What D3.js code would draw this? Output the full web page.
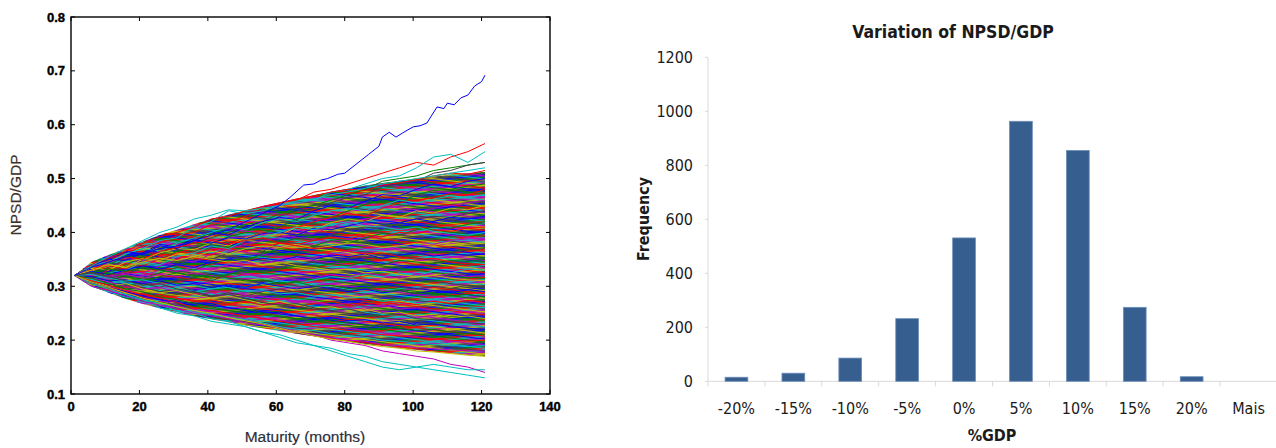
<!DOCTYPE html>
<html><head><meta charset="utf-8">
<script src="https://cdn.jsdelivr.net/npm/d3@7/dist/d3.min.js"></script>
<style>
html,body{margin:0;padding:0;background:#fff;}
svg{display:block;}
</style></head>
<body>
<svg id="c" width="1276" height="448"></svg>
<script>
// ---------- LEFT CHART DATA (NPSD/GDP simulated paths, read approximately) ----------
const months = [1,6,11,16,21,26,31,36,41,46,51,56,61,66,71,76,81,86,91,96,101,106,111,116,121];
const fanUpper = [0.32,0.345,0.358,0.37,0.383,0.395,0.405,0.415,0.425,0.433,0.441,0.449,0.456,0.463,0.469,0.475,0.481,0.487,0.492,0.496,0.5,0.504,0.508,0.51,0.512];
const fanLower = [0.32,0.3,0.288,0.277,0.267,0.259,0.252,0.245,0.239,0.233,0.227,0.222,0.217,0.212,0.207,0.202,0.197,0.193,0.189,0.185,0.182,0.179,0.176,0.173,0.17];
const paths = [
 [0.32,0.335,0.35,0.36,0.375,0.38,0.395,0.40,0.415,0.42,0.43,0.445,0.455,0.46,0.475,0.48,0.49,0.5,0.51,0.52,0.53,0.525,0.54,0.55,0.565],
 [0.32,0.34,0.345,0.36,0.37,0.385,0.39,0.41,0.42,0.44,0.435,0.44,0.45,0.455,0.46,0.475,0.48,0.49,0.5,0.505,0.52,0.54,0.545,0.53,0.55],
 [0.32,0.33,0.34,0.355,0.36,0.37,0.38,0.385,0.40,0.405,0.415,0.42,0.435,0.445,0.45,0.46,0.47,0.48,0.495,0.50,0.505,0.515,0.52,0.525,0.53],
 [0.32,0.325,0.335,0.35,0.345,0.36,0.375,0.38,0.39,0.4,0.41,0.415,0.43,0.44,0.445,0.455,0.465,0.47,0.485,0.49,0.495,0.51,0.515,0.525,0.53],
 [0.32,0.305,0.295,0.285,0.27,0.265,0.255,0.25,0.24,0.235,0.225,0.215,0.21,0.2,0.19,0.185,0.175,0.17,0.16,0.155,0.15,0.145,0.14,0.135,0.13],
 [0.32,0.31,0.3,0.29,0.28,0.275,0.265,0.255,0.25,0.245,0.24,0.23,0.225,0.215,0.21,0.2,0.195,0.19,0.18,0.175,0.17,0.165,0.155,0.15,0.14],
 [0.32,0.3,0.29,0.28,0.275,0.26,0.25,0.245,0.235,0.23,0.225,0.215,0.205,0.195,0.19,0.18,0.17,0.16,0.15,0.145,0.15,0.155,0.15,0.145,0.145],
 [0.32,0.338,0.35,0.348,0.362,0.378,0.372,0.39,0.40,0.395,0.41,0.42,0.428,0.424,0.44,0.45,0.445,0.458,0.47,0.468,0.48,0.49,0.485,0.495,0.50],
 [0.32,0.33,0.325,0.34,0.355,0.35,0.365,0.372,0.38,0.392,0.4,0.398,0.41,0.425,0.432,0.428,0.44,0.452,0.46,0.455,0.47,0.478,0.48,0.486,0.49],
 [0.32,0.315,0.33,0.342,0.338,0.35,0.362,0.37,0.365,0.378,0.39,0.4,0.395,0.41,0.42,0.428,0.435,0.43,0.445,0.455,0.46,0.465,0.472,0.47,0.48],
 [0.32,0.335,0.345,0.36,0.37,0.365,0.38,0.39,0.4,0.41,0.405,0.418,0.425,0.42,0.432,0.44,0.445,0.44,0.45,0.46,0.455,0.462,0.468,0.465,0.47],
 [0.32,0.31,0.318,0.33,0.325,0.338,0.35,0.345,0.36,0.37,0.378,0.385,0.39,0.4,0.398,0.41,0.42,0.425,0.43,0.44,0.438,0.445,0.45,0.455,0.46],
 [0.32,0.328,0.34,0.335,0.35,0.362,0.37,0.368,0.38,0.375,0.39,0.398,0.395,0.41,0.405,0.418,0.425,0.42,0.432,0.428,0.44,0.436,0.445,0.442,0.45],
 [0.32,0.325,0.315,0.322,0.335,0.33,0.342,0.355,0.35,0.362,0.37,0.365,0.38,0.39,0.385,0.395,0.405,0.41,0.405,0.418,0.425,0.43,0.428,0.435,0.44],
 [0.32,0.34,0.35,0.365,0.36,0.375,0.37,0.385,0.38,0.39,0.388,0.398,0.4,0.395,0.408,0.405,0.412,0.42,0.415,0.418,0.425,0.42,0.428,0.425,0.43],
 [0.32,0.318,0.31,0.32,0.315,0.325,0.335,0.33,0.342,0.35,0.348,0.36,0.37,0.365,0.375,0.385,0.38,0.39,0.398,0.395,0.405,0.41,0.408,0.415,0.42],
 [0.32,0.33,0.338,0.332,0.345,0.355,0.35,0.362,0.358,0.37,0.365,0.372,0.38,0.378,0.385,0.39,0.388,0.395,0.392,0.4,0.398,0.405,0.402,0.408,0.41],
 [0.32,0.312,0.325,0.33,0.345,0.34,0.355,0.362,0.375,0.37,0.385,0.392,0.4,0.41,0.405,0.415,0.42,0.412,0.41,0.405,0.41,0.402,0.398,0.395,0.40],
 [0.32,0.322,0.318,0.325,0.32,0.33,0.328,0.335,0.33,0.34,0.345,0.342,0.35,0.355,0.352,0.36,0.365,0.37,0.368,0.375,0.38,0.378,0.385,0.388,0.39],
 [0.32,0.335,0.33,0.345,0.352,0.348,0.36,0.355,0.365,0.36,0.37,0.375,0.372,0.378,0.37,0.375,0.38,0.378,0.372,0.375,0.38,0.376,0.382,0.378,0.38],
 [0.32,0.305,0.31,0.3,0.305,0.298,0.31,0.315,0.31,0.322,0.33,0.328,0.335,0.34,0.345,0.342,0.35,0.355,0.352,0.36,0.358,0.365,0.362,0.368,0.37],
 [0.32,0.328,0.322,0.33,0.338,0.332,0.34,0.335,0.345,0.35,0.345,0.352,0.348,0.355,0.35,0.358,0.355,0.36,0.352,0.358,0.362,0.356,0.36,0.358,0.36],
 [0.32,0.315,0.325,0.318,0.31,0.318,0.325,0.32,0.315,0.322,0.33,0.325,0.332,0.338,0.335,0.342,0.338,0.345,0.34,0.348,0.345,0.342,0.348,0.346,0.35],
 [0.32,0.33,0.345,0.355,0.35,0.365,0.372,0.38,0.385,0.378,0.385,0.39,0.38,0.375,0.37,0.372,0.365,0.36,0.362,0.355,0.35,0.352,0.345,0.342,0.34],
 [0.32,0.312,0.305,0.31,0.3,0.292,0.298,0.29,0.295,0.302,0.298,0.305,0.31,0.305,0.312,0.318,0.315,0.322,0.318,0.325,0.32,0.328,0.325,0.332,0.33],
 [0.32,0.325,0.318,0.322,0.315,0.322,0.318,0.325,0.32,0.316,0.322,0.318,0.312,0.318,0.315,0.322,0.318,0.325,0.32,0.315,0.322,0.318,0.324,0.318,0.32],
 [0.32,0.33,0.34,0.335,0.345,0.352,0.348,0.355,0.35,0.345,0.348,0.34,0.345,0.338,0.335,0.33,0.332,0.325,0.328,0.322,0.318,0.32,0.315,0.312,0.31],
 [0.32,0.31,0.302,0.295,0.298,0.29,0.285,0.29,0.282,0.288,0.282,0.29,0.295,0.288,0.292,0.298,0.292,0.295,0.302,0.298,0.295,0.3,0.296,0.302,0.30],
 [0.32,0.318,0.31,0.312,0.305,0.31,0.302,0.305,0.298,0.302,0.298,0.305,0.3,0.295,0.3,0.296,0.29,0.295,0.288,0.292,0.286,0.292,0.288,0.294,0.29],
 [0.32,0.325,0.332,0.328,0.335,0.33,0.325,0.318,0.322,0.315,0.31,0.312,0.305,0.308,0.3,0.302,0.296,0.298,0.29,0.292,0.286,0.288,0.282,0.285,0.28],
 [0.32,0.305,0.295,0.288,0.28,0.285,0.278,0.272,0.275,0.268,0.272,0.265,0.27,0.262,0.268,0.272,0.266,0.27,0.265,0.27,0.266,0.272,0.268,0.274,0.27],
 [0.32,0.322,0.315,0.31,0.312,0.305,0.3,0.302,0.295,0.298,0.29,0.292,0.286,0.288,0.282,0.285,0.278,0.28,0.272,0.275,0.268,0.27,0.265,0.262,0.26],
 [0.32,0.315,0.308,0.3,0.295,0.298,0.29,0.285,0.288,0.28,0.282,0.275,0.278,0.27,0.272,0.265,0.268,0.262,0.265,0.258,0.26,0.255,0.258,0.252,0.25],
 [0.32,0.31,0.3,0.305,0.295,0.288,0.292,0.285,0.278,0.282,0.275,0.268,0.272,0.265,0.26,0.262,0.255,0.258,0.25,0.252,0.245,0.248,0.242,0.245,0.24],
 [0.32,0.325,0.318,0.31,0.302,0.305,0.295,0.29,0.282,0.285,0.278,0.27,0.265,0.268,0.26,0.255,0.258,0.25,0.245,0.248,0.24,0.238,0.235,0.232,0.23],
 [0.32,0.308,0.298,0.29,0.282,0.275,0.27,0.265,0.268,0.26,0.255,0.25,0.252,0.245,0.24,0.242,0.236,0.238,0.232,0.235,0.228,0.23,0.225,0.222,0.22],
 [0.32,0.315,0.305,0.295,0.29,0.28,0.275,0.268,0.262,0.255,0.258,0.25,0.245,0.24,0.242,0.235,0.232,0.228,0.225,0.222,0.218,0.22,0.215,0.212,0.21],
 [0.32,0.31,0.302,0.292,0.285,0.278,0.27,0.26,0.255,0.25,0.245,0.24,0.235,0.23,0.225,0.222,0.218,0.215,0.21,0.208,0.205,0.202,0.2,0.198,0.20],
 [0.32,0.305,0.295,0.285,0.275,0.268,0.262,0.255,0.248,0.242,0.238,0.232,0.225,0.22,0.218,0.212,0.208,0.205,0.2,0.198,0.195,0.192,0.19,0.188,0.19],
 [0.32,0.3,0.292,0.282,0.272,0.265,0.258,0.25,0.245,0.24,0.232,0.228,0.222,0.215,0.21,0.205,0.2,0.198,0.192,0.19,0.186,0.184,0.182,0.18,0.18],
 [0.32,0.308,0.298,0.288,0.278,0.27,0.262,0.255,0.25,0.242,0.236,0.23,0.222,0.215,0.208,0.202,0.198,0.192,0.188,0.185,0.18,0.178,0.175,0.172,0.17],
 [0.32,0.34,0.352,0.365,0.38,0.392,0.40,0.41,0.425,0.43,0.44,0.448,0.455,0.462,0.468,0.475,0.48,0.478,0.488,0.492,0.498,0.505,0.51,0.508,0.515],
 [0.32,0.338,0.355,0.37,0.385,0.40,0.41,0.425,0.432,0.442,0.44,0.445,0.45,0.458,0.462,0.47,0.475,0.482,0.49,0.495,0.5,0.505,0.51,0.515,0.52]
];
const pathColorIdx = [2,3,1,6,3,4,3, 0,1,2,3,4,5,6,0,1,2,3,4,5,6,0,1,2,3,4,5,6,0,1,2,3,4,5,6,0,1,2,3,4,5, 2,3];
const outlierMonths = [1,6,11,16,21,26,31,36,41,46,51,56,61,64,68,71,73,75,78,80,83,85,87,90,91,93,95,97,100,102,104,107,109,110,112,114,116,118,120,121];
const outlierValues = [0.32,0.335,0.345,0.355,0.36,0.37,0.375,0.385,0.395,0.405,0.42,0.435,0.45,0.465,0.488,0.49,0.497,0.50,0.508,0.51,0.525,0.535,0.545,0.56,0.577,0.586,0.577,0.585,0.596,0.598,0.603,0.633,0.63,0.64,0.637,0.65,0.655,0.672,0.68,0.692];
const leftXTicks = [0,20,40,60,80,100,120,140];
const leftYTicks = [0.1,0.2,0.3,0.4,0.5,0.6,0.7,0.8];

// ---------- RIGHT CHART DATA (histogram) ----------
const bins = ["-20%","-15%","-10%","-5%","0%","5%","10%","15%","20%","Mais"];
const freq = [15,30,86,232,531,963,855,274,17,0];
const rightYTicks = [0,200,400,600,800,1000,1200];

const matlab = ["#0000ff","#008000","#ff0000","#00bfbf","#bf00bf","#bfbf00","#404040"];

const svg = d3.select("#c");

// texture pattern that mimics the dense tangle of coloured paths
const defs = svg.append("defs");
const pat = defs.append("pattern").attr("id","tangle").attr("patternUnits","userSpaceOnUse")
  .attr("width",23).attr("height",14).attr("patternTransform","rotate(-6)");
pat.append("rect").attr("width",23).attr("height",14).attr("fill","#7a6a8a");
matlab.forEach((c,i)=>{
  pat.append("rect").attr("x",0).attr("y",i*2).attr("width",23).attr("height",1.6).attr("fill",c);
});
const pat2 = defs.append("pattern").attr("id","tangle2").attr("patternUnits","userSpaceOnUse")
  .attr("width",31).attr("height",21).attr("patternTransform","rotate(7)");
[2,0,1,4,3,6,5].forEach((ci,i)=>{
  pat2.append("rect").attr("x",0).attr("y",i*3+1).attr("width",31).attr("height",1.1).attr("fill",matlab[ci]);
});

// ===== LEFT =====
const L = {x0:71, x1:550, y0:17, y1:394};
const xL = d3.scaleLinear().domain([0,140]).range([L.x0,L.x1]);
const yL = d3.scaleLinear().domain([0.1,0.8]).range([L.y1,L.y0]);
const gL = svg.append("g");

const area = d3.area().x((d,i)=>xL(months[i])).y0((d,i)=>yL(fanLower[i])).y1(d=>yL(d));
gL.append("path").datum(fanUpper).attr("d",area).attr("fill","url(#tangle)");
gL.append("path").datum(fanUpper).attr("d",area).attr("fill","url(#tangle2)");

const line = d3.line().x((d,i)=>xL(months[i])).y(d=>yL(d));
gL.selectAll("path.sim").data(paths).join("path").attr("class","sim")
  .attr("d",line).attr("fill","none")
  .attr("stroke",(d,i)=>matlab[pathColorIdx[i]]).attr("stroke-width",1);

const line2 = d3.line().x((d,i)=>xL(outlierMonths[i])).y(d=>yL(d));
gL.append("path").datum(outlierValues).attr("d",line2).attr("fill","none").attr("stroke","#0000ff").attr("stroke-width",1);

// axes box
gL.append("rect").attr("x",L.x0).attr("y",L.y0).attr("width",L.x1-L.x0).attr("height",L.y1-L.y0)
  .attr("fill","none").attr("stroke","#000").attr("stroke-width",1.4);
const tl = 4;
const fontL = "'Liberation Sans', Arial, sans-serif";
leftXTicks.forEach(t=>{
  const x = xL(t);
  gL.append("line").attr("x1",x).attr("x2",x).attr("y1",L.y1).attr("y2",L.y1-tl).attr("stroke","#000");
  gL.append("line").attr("x1",x).attr("x2",x).attr("y1",L.y0).attr("y2",L.y0+tl).attr("stroke","#000");
  gL.append("text").attr("x",x).attr("y",L.y1+17).attr("text-anchor","middle")
    .attr("font-family",fontL).attr("font-weight","bold").attr("font-size",13)
    .attr("stroke","#000").attr("stroke-width",0.4).text(t);
});
leftYTicks.forEach(t=>{
  const y = yL(t);
  gL.append("line").attr("x1",L.x0).attr("x2",L.x0+tl).attr("y1",y).attr("y2",y).attr("stroke","#000");
  gL.append("line").attr("x1",L.x1).attr("x2",L.x1-tl).attr("y1",y).attr("y2",y).attr("stroke","#000");
  gL.append("text").attr("x",L.x0-6).attr("y",y+4.5).attr("text-anchor","end")
    .attr("font-family",fontL).attr("font-weight","bold").attr("font-size",13)
    .attr("stroke","#000").attr("stroke-width",0.4).text(d3.format(".1f")(t));
});
gL.append("text").attr("x",305).attr("y",442).attr("text-anchor","middle")
  .attr("font-family",fontL).attr("font-size",15.5).attr("fill","#2b2f3c")
  .attr("stroke","#2b2f3c").attr("stroke-width",0.2).text("Maturity (months)");
gL.append("text").attr("transform","translate(21,195) rotate(-90)").attr("text-anchor","middle")
  .attr("font-family",fontL).attr("font-size",15.5).attr("fill","#3c3028")
  .attr("stroke","#3c3028").attr("stroke-width",0.2).text("NPSD/GDP");

// ===== RIGHT =====
const R = {x0:708, x1:1277, y0:57.3, y1:381.3};
const fontR = "'DejaVu Sans Condensed','DejaVu Sans',sans-serif";
const xR = d3.scaleBand().domain(bins).range([R.x0,R.x1]).paddingInner(0.6).paddingOuter(0.3);
const xRb = d3.scaleBand().domain(bins).range([R.x0,R.x1]);
const yR = d3.scaleLinear().domain([0,1200]).range([R.y1,R.y0]);
const gR = svg.append("g");

gR.append("line").attr("x1",R.x0).attr("x2",R.x0).attr("y1",R.y0).attr("y2",R.y1).attr("stroke","#d9d9d9");
rightYTicks.forEach(t=>{
  const y = yR(t);
  gR.append("line").attr("x1",R.x0-3).attr("x2",R.x0).attr("y1",y).attr("y2",y).attr("stroke","#d9d9d9");
  gR.append("text").attr("x",693).attr("y",y+5.5).attr("text-anchor","end")
    .attr("font-family",fontR).attr("font-size",16).attr("fill","#1a1a1a").text(t);
});
gR.append("line").attr("x1",R.x0).attr("x2",R.x1).attr("y1",R.y1).attr("y2",R.y1).attr("stroke","#d9d9d9");
bins.forEach((b,i)=>{
  const x = xRb(b);
  gR.append("line").attr("x1",x).attr("x2",x).attr("y1",R.y1).attr("y2",R.y1+5).attr("stroke","#d9d9d9");
  gR.append("text").attr("x",x+xRb.bandwidth()/2).attr("y",414).attr("text-anchor","middle")
    .attr("font-family",fontR).attr("font-size",16).attr("fill","#1a1a1a").text(b);
});
gR.selectAll("rect.bar").data(freq).join("rect").attr("class","bar")
  .attr("x",(d,i)=>xR(bins[i])).attr("width",xR.bandwidth())
  .attr("y",d=>yR(d)).attr("height",d=>R.y1-yR(d))
  .attr("fill","#365e8f").attr("stroke","#6d8fbb").attr("stroke-width",0.8);

gR.append("text").attr("x",953).attr("y",38).attr("text-anchor","middle")
  .attr("font-family",fontR).attr("font-weight","bold").attr("font-size",17.5).attr("fill","#1a1a1a").text("Variation of NPSD/GDP");
gR.append("text").attr("x",992).attr("y",441).attr("text-anchor","middle")
  .attr("font-family",fontR).attr("font-weight","bold").attr("font-size",16).attr("fill","#1a1a1a").text("%GDP");
gR.append("text").attr("transform","translate(649,219) rotate(-90)").attr("text-anchor","middle")
  .attr("font-family",fontR).attr("font-weight","bold").attr("font-size",16).attr("fill","#1a1a1a").text("Frequency");
</script>
</body></html>
